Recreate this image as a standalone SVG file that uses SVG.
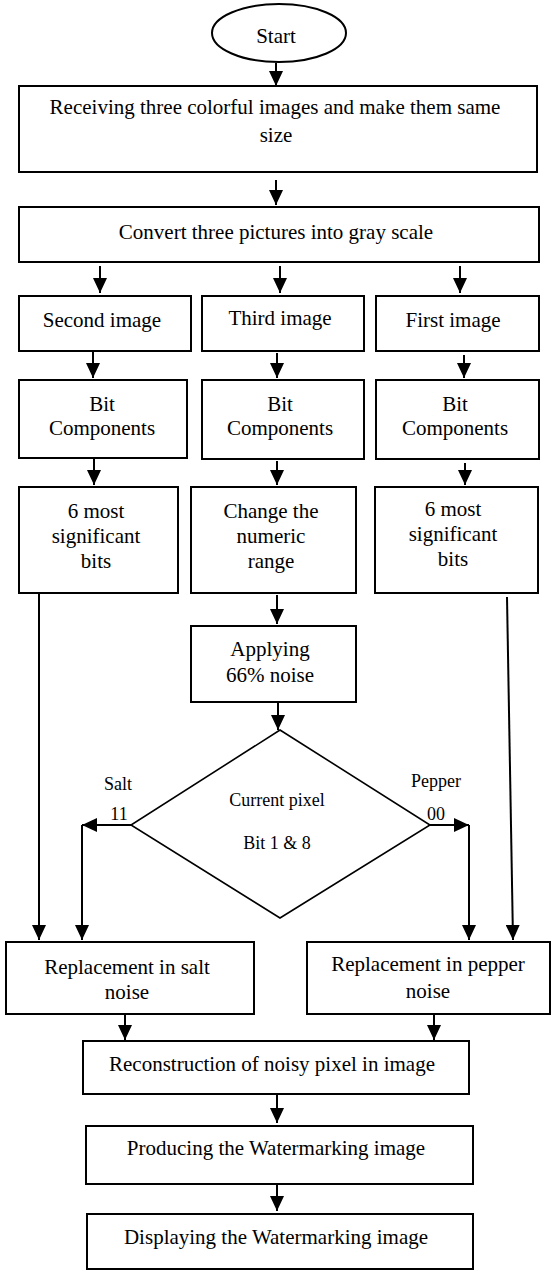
<svg xmlns="http://www.w3.org/2000/svg" width="552" height="1270" viewBox="0 0 552 1270">
<style>
.box{fill:#fff;stroke:#000;stroke-width:2}
.dia{fill:#fff;stroke:#000;stroke-width:1.6}
.t{font-family:"Liberation Serif","Times New Roman",serif;font-size:21px;fill:#000;text-anchor:middle}
.s{font-family:"Liberation Serif","Times New Roman",serif;font-size:18px;fill:#000;text-anchor:middle}
.c{fill:none;stroke:#000;stroke-width:2;marker-end:url(#ah)}
.p{fill:none;stroke:#000;stroke-width:2}
</style>
<defs>
<marker id="ah" viewBox="0 0 15 14" refX="15" refY="7" markerWidth="15" markerHeight="14" markerUnits="userSpaceOnUse" orient="auto">
<path d="M0,0 L15,7 L0,14 z" fill="#000"/>
</marker>
</defs>
<rect width="552" height="1270" fill="#fff"/>

<g id="connectors">
<line class="c" x1="276" y1="63" x2="276" y2="86"/>
<line class="c" x1="276" y1="180" x2="276" y2="205"/>
<line class="c" x1="100" y1="266" x2="100" y2="293"/>
<line class="c" x1="280" y1="266" x2="280" y2="293"/>
<line class="c" x1="460" y1="266" x2="460" y2="293"/>
<line class="c" x1="93" y1="352" x2="93" y2="378"/>
<line class="c" x1="277" y1="353" x2="277" y2="378"/>
<line class="c" x1="464" y1="355" x2="464" y2="378"/>
<line class="c" x1="94" y1="459" x2="94" y2="485"/>
<line class="c" x1="277" y1="461" x2="277" y2="485"/>
<line class="c" x1="465" y1="463" x2="465" y2="485"/>
<line class="c" x1="277" y1="595" x2="277" y2="624"/>
<line class="c" x1="278" y1="702" x2="278" y2="730"/>
<line class="c" x1="39" y1="593" x2="39" y2="940"/>
<line class="c" x1="507" y1="597" x2="513" y2="940"/>
<line class="c" x1="131" y1="825" x2="82" y2="825"/>
<line class="c" x1="82" y1="825" x2="82" y2="940"/>
<line class="c" x1="430" y1="825" x2="469" y2="825"/>
<line class="c" x1="469" y1="825" x2="469" y2="940"/>
<line class="c" x1="125" y1="1014" x2="125" y2="1040"/>
<line class="c" x1="434" y1="1014" x2="434" y2="1040"/>
<line class="c" x1="277" y1="1094" x2="277" y2="1123"/>
<line class="c" x1="277" y1="1184" x2="277" y2="1211"/>
</g>

<g id="start">
<ellipse cx="279" cy="33" rx="67" ry="29" class="box"/>
<text class="t" x="276" y="43">Start</text>
</g>

<g id="receive">
<rect class="box" x="19" y="86" width="518" height="86"/>
<text class="t" x="275" y="114">Receiving three colorful images and make them same</text>
<text class="t" x="276" y="142">size</text>
</g>

<g id="convert">
<rect class="box" x="19" y="207" width="520" height="55"/>
<text class="t" x="276" y="239">Convert three pictures into gray scale</text>
</g>

<g id="second">
<rect class="box" x="19" y="296" width="172" height="55"/>
<text class="t" x="102" y="327">Second image</text>
</g>
<g id="third">
<rect class="box" x="202" y="296" width="162" height="55"/>
<text class="t" x="280" y="325">Third image</text>
</g>
<g id="first">
<rect class="box" x="376" y="296" width="163" height="55"/>
<text class="t" x="453" y="327">First image</text>
</g>

<g id="bit2">
<rect class="box" x="19" y="380" width="168" height="78"/>
<text class="t" x="102" y="411">Bit</text>
<text class="t" x="102" y="435">Components</text>
</g>
<g id="bit3">
<rect class="box" x="202" y="380" width="162" height="79"/>
<text class="t" x="280" y="411">Bit</text>
<text class="t" x="280" y="435">Components</text>
</g>
<g id="bit1">
<rect class="box" x="376" y="380" width="163" height="79"/>
<text class="t" x="455" y="411">Bit</text>
<text class="t" x="455" y="435">Components</text>
</g>

<g id="msb2">
<rect class="box" x="19" y="487" width="159" height="106"/>
<text class="t" x="96" y="518">6 most</text>
<text class="t" x="96" y="543">significant</text>
<text class="t" x="96" y="568">bits</text>
</g>
<g id="range">
<rect class="box" x="191" y="487" width="165" height="106"/>
<text class="t" x="271" y="518">Change the</text>
<text class="t" x="271" y="543">numeric</text>
<text class="t" x="271" y="568">range</text>
</g>
<g id="msb1">
<rect class="box" x="375" y="487" width="163" height="106"/>
<text class="t" x="453" y="516">6 most</text>
<text class="t" x="453" y="541">significant</text>
<text class="t" x="453" y="566">bits</text>
</g>

<g id="noise">
<rect class="box" x="191" y="626" width="165" height="76"/>
<text class="t" x="270" y="656">Applying</text>
<text class="t" x="270" y="682">66% noise</text>
</g>

<g id="decision">
<path class="dia" d="M280,730 L430,825 L280,918 L131,825 Z"/>
<text class="s" x="277" y="806">Current pixel</text>
<text class="s" x="277" y="849">Bit 1 &amp; 8</text>
<text class="s" x="118" y="790">Salt</text>
<text class="s" x="119" y="820">11</text>
<text class="s" x="436" y="787">Pepper</text>
<text class="s" x="436" y="820">00</text>
</g>

<g id="salt">
<rect class="box" x="6" y="942" width="248" height="72"/>
<text class="t" x="127" y="974">Replacement in salt</text>
<text class="t" x="127" y="999">noise</text>
</g>
<g id="pepper">
<rect class="box" x="307" y="942" width="243" height="72"/>
<text class="t" x="428" y="971">Replacement in pepper</text>
<text class="t" x="428" y="998">noise</text>
</g>

<g id="reconstruct">
<rect class="box" x="83" y="1041" width="386" height="53"/>
<text class="t" x="272" y="1071">Reconstruction of noisy pixel in image</text>
</g>
<g id="produce">
<rect class="box" x="86" y="1126" width="387" height="58"/>
<text class="t" x="276" y="1155">Producing the Watermarking image</text>
</g>
<g id="display">
<rect class="box" x="87" y="1214" width="386" height="55"/>
<text class="t" x="276" y="1244">Displaying the Watermarking image</text>
</g>
</svg>
